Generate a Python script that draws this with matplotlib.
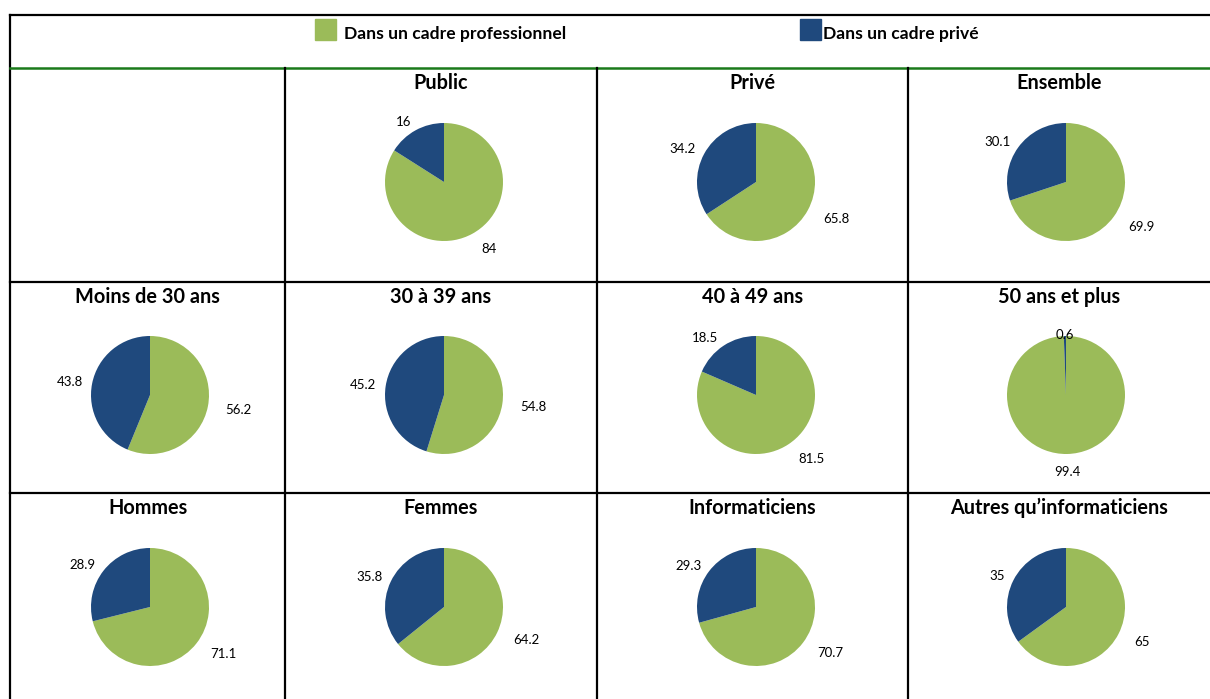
import matplotlib.pyplot as plt
from matplotlib.lines import Line2D
from matplotlib.patches import Rectangle

plt.rcParams['font.family'] = ['Lato', 'DejaVu Sans']

titles = ["Public", "Privé", "Ensemble",
          "Moins de 30 ans", "30 à 39 ans", "40 à 49 ans", "50 ans et plus",
          "Hommes", "Femmes", "Informaticiens", "Autres qu’informaticiens"]
pro = [84, 65.8, 69.9, 56.2, 54.8, 81.5, 99.4, 71.1, 64.2, 70.7, 65]
prive = [16, 34.2, 30.1, 43.8, 45.2, 18.5, 0.6, 28.9, 35.8, 29.3, 35]
legend_labels = ["Dans un cadre professionnel", "Dans un cadre privé"]

GREEN = '#9BBB59'
BLUE = '#1F497D'

W, H = 1210, 699
fig = plt.figure(figsize=(W / 100, H / 100), dpi=100)

# grid in pixel units (top-left origin)
col_x = [10, 285, 597, 908, 1210]
row_y = [68, 282, 493, 699]
pie_cx = [150, 444, 756, 1066]
pie_cy = [182, 395, 607]
R = 59


def fx(x):
    return x / W


def fy(y):
    return 1 - y / H


def hline(y, x0, x1, color='black', lw=1.6):
    fig.add_artist(Line2D([fx(x0), fx(x1)], [fy(y), fy(y)], color=color, lw=lw,
                          transform=fig.transFigure))


def vline(x, y0, y1, color='black', lw=1.6):
    fig.add_artist(Line2D([fx(x), fx(x)], [fy(y0), fy(y1)], color=color, lw=lw,
                          transform=fig.transFigure))


# frame
hline(15, 10, 1210)
vline(10, 15, 699)
hline(68, 10, 1210, color='#1a7a1a', lw=1.8)
for x in col_x[1:4]:
    vline(x, 68, 699)
for y in row_y[1:3]:
    hline(y, 10, 1210)

# legend
for (sx, tx), lab, c in zip([(315, 344), (800, 823)], legend_labels, [GREEN, BLUE]):
    fig.add_artist(Rectangle((fx(sx), fy(40)), 21 / W, 21 / H, color=c,
                             transform=fig.transFigure))
    fig.text(fx(tx), fy(34), lab, fontsize=12.6, fontweight='bold',
             ha='left', va='center')

# cells: first row skips column 0
cells = [(0, c) for c in range(1, 4)] + [(r, c) for r in (1, 2) for c in range(4)]

for i, (r, c) in enumerate(cells):
    cell_mid = (col_x[c] + col_x[c + 1]) / 2
    fig.text(fx(cell_mid), fy(row_y[r] + 15), titles[i], fontsize=14.3,
             fontweight='bold', ha='center', va='center')

    aw, ah = 240, 180
    cx, cy = pie_cx[c], pie_cy[r]
    ax = fig.add_axes([fx(cx - aw / 2), fy(cy + ah / 2), aw / W, ah / H])
    ax.axis('off')
    vals = [pro[i], prive[i]]
    labs = ['%g' % v for v in vals]
    wedges, texts = ax.pie(vals, colors=[GREEN, BLUE], startangle=90,
                           counterclock=False, labels=labs, labeldistance=1.16,
                           textprops={'fontsize': 9.5})
    # green labels sit a bit further out
    gx, gy = texts[0].get_position()
    texts[0].set_position((gx * 1.3 / 1.16, gy * 1.3 / 1.16))
    for t in texts:
        x, y = t.get_position()
        if abs(x) < 0.2:
            t.set_ha('center')
            if y > 0:
                t.set_position((x, 1.02))
    ax.set_xlim(-aw / 2 / R, aw / 2 / R)
    ax.set_ylim(-ah / 2 / R, ah / 2 / R)

fig.savefig('out.png', dpi=100)
